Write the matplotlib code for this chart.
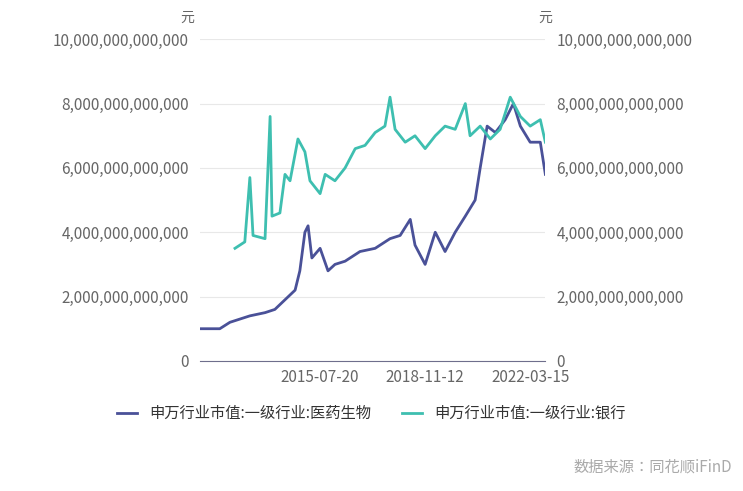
import matplotlib
matplotlib.use('Agg')
import matplotlib.pyplot as plt
from matplotlib.ticker import FuncFormatter

plt.rcParams['font.family'] = 'sans-serif'
plt.rcParams['font.sans-serif'] = ['Noto Sans CJK SC', 'Noto Sans CJK JP', 'Noto Sans CJK TC',
                                   'DejaVu Sans']

# decimal years and values (trillion yuan)
med_t = [2011.75, 2012.38, 2012.70, 2013.33, 2013.81, 2014.12, 2014.44, 2014.76, 2014.91,
         2015.07, 2015.17, 2015.29, 2015.55, 2015.80, 2016.02, 2016.34, 2016.81, 2017.29,
         2017.76, 2018.08, 2018.40, 2018.55, 2018.87, 2019.19, 2019.50, 2019.82, 2020.14,
         2020.45, 2020.61, 2020.83, 2021.09, 2021.40, 2021.66, 2021.88, 2022.19, 2022.51, 2022.67]
med_v = [1.0, 1.0, 1.2, 1.4, 1.5, 1.6, 1.9, 2.2, 2.8, 4.0, 4.2, 3.2, 3.5, 2.8, 3.0, 3.1, 3.4,
         3.5, 3.8, 3.9, 4.4, 3.6, 3.0, 4.0, 3.4, 4.0, 4.5, 5.0, 6.0, 7.3, 7.1, 7.5, 8.0, 7.3,
         6.8, 6.8, 5.8]
bank_t = [2012.86, 2013.17, 2013.33, 2013.43, 2013.81, 2013.97, 2014.03, 2014.28, 2014.44,
          2014.60, 2014.85, 2015.07, 2015.23, 2015.55, 2015.71, 2016.02, 2016.34, 2016.66,
          2016.97, 2017.29, 2017.60, 2017.76, 2017.92, 2018.24, 2018.55, 2018.87, 2019.19,
          2019.50, 2019.82, 2020.14, 2020.29, 2020.61, 2020.93, 2021.24, 2021.56, 2021.88,
          2022.19, 2022.51, 2022.67]
bank_v = [3.5, 3.7, 5.7, 3.9, 3.8, 7.6, 4.5, 4.6, 5.8, 5.6, 6.9, 6.5, 5.6, 5.2, 5.8, 5.6,
          6.0, 6.6, 6.7, 7.1, 7.3, 8.2, 7.2, 6.8, 7.0, 6.6, 7.0, 7.3, 7.2, 8.0, 7.0, 7.3, 6.9,
          7.2, 8.2, 7.6, 7.3, 7.5, 6.8]
tick_pos = [2015.55, 2018.87, 2022.20]
tick_lab = ['2015-07-20', '2018-11-12', '2022-03-15']

T = 1e12
fig = plt.figure(figsize=(7.43, 4.91), dpi=100)
ax = fig.add_axes([0.269, 0.265, 0.465, 0.655])
ax2 = ax.twinx()
ax.plot(med_t, [v * T for v in med_v], color='#4a5198', lw=2, label='申万行业市值:一级行业:医药生物')
ax2.plot(bank_t, [v * T for v in bank_v], color='#3ebfb0', lw=2, label='申万行业市值:一级行业:银行')

fmt = FuncFormatter(lambda v, p: f'{v:,.0f}')
for a in (ax, ax2):
    a.set_ylim(0, 10 * T)
    a.set_yticks([i * 2 * T for i in range(6)])
    a.yaxis.set_major_formatter(fmt)
    a.tick_params(length=0, labelsize=11, colors='#666666', pad=8)
    for s in a.spines.values():
        s.set_visible(False)
ax.spines['bottom'].set_visible(True)
ax.spines['bottom'].set_color('#6e6e8c')
ax.grid(axis='y', color='#e8e8e8')
ax.set_axisbelow(True)
ax.set_xlim(2011.75, 2022.67)
ax.set_xticks(tick_pos)
ax.set_xticklabels(tick_lab)
ax.tick_params(axis='x', labelsize=11, pad=6)
fig.text(0.243, 0.955, '元', fontsize=10, color='#666666')
fig.text(0.725, 0.955, '元', fontsize=10, color='#666666')

h1, l1 = ax.get_legend_handles_labels()
h2, l2 = ax2.get_legend_handles_labels()
fig.legend(h1 + h2, l1 + l2, loc='center', bbox_to_anchor=(0.5, 0.158), ncol=2,
           frameon=False, fontsize=11, handlelength=1.3, columnspacing=2.0,
           labelcolor='#333333')
fig.text(0.985, 0.04, '数据来源：同花顺iFinD', ha='right', fontsize=11, color='#aaaaaa')
fig.savefig('out.png')
